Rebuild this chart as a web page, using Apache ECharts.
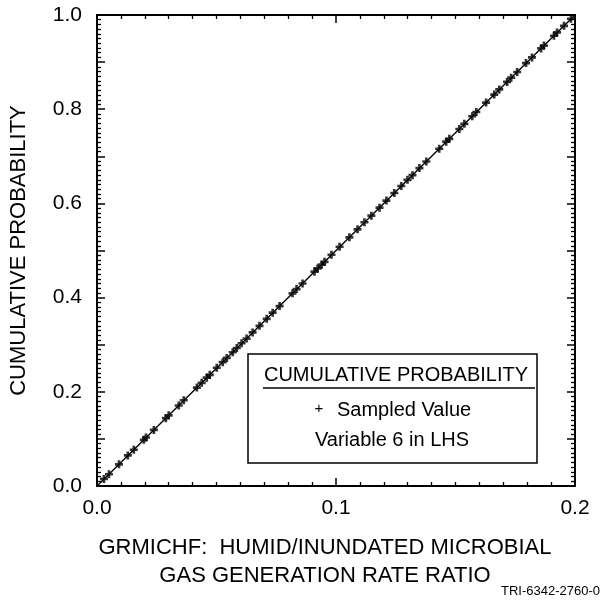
<!DOCTYPE html>
<html>
<head>
<meta charset="utf-8">
<script src="https://cdn.jsdelivr.net/npm/echarts@6/dist/echarts.min.js"></script>
<style>
html,body{margin:0;padding:0;background:#fff;}
#chart{width:612px;height:601px;}
</style>
</head>
<body>
<div id="chart"></div>
<script>
var sampledX = [
  0.0029,0.0050,0.0092,0.0129,0.0154,0.0196,0.0205,0.0238,0.0288,0.0300,0.0342,0.0363,
  0.0418,0.0438,0.0459,0.0472,0.0501,0.0526,0.0543,0.0568,0.0585,0.0605,0.0626,0.0651,
  0.0680,0.0710,0.0735,0.0764,0.0818,0.0835,0.0860,0.0910,0.0923,0.0940,0.0952,0.0981,
  0.1015,0.1056,0.1090,0.1119,0.1148,0.1182,0.1211,0.1244,0.1273,0.1299,0.1320,
  0.1349,0.1378,0.1432,0.1461,0.1474,0.1516,0.1537,0.1570,0.1587,0.1628,0.1662,
  0.1683,0.1716,0.1733,0.1758,0.1795,0.1820,0.1858,0.1870,0.1912,0.1925,0.1954,0.1983
];
var sampledY = [
  0.015,0.025,0.046,0.065,0.077,0.098,0.103,0.119,0.144,0.150,0.171,0.182,
  0.209,0.219,0.230,0.236,0.251,0.263,0.272,0.284,0.293,0.303,0.313,0.326,
  0.340,0.355,0.368,0.382,0.409,0.418,0.430,0.455,0.462,0.470,0.476,0.491,
  0.508,0.528,0.545,0.560,0.574,0.591,0.606,0.622,0.637,0.650,0.660,
  0.675,0.689,0.716,0.731,0.737,0.758,0.769,0.785,0.794,0.814,0.831,
  0.842,0.858,0.867,0.879,0.898,0.910,0.929,0.935,0.956,0.963,0.977,0.992
];
var cdfX = [0, 0.2];
var cdfY = [0, 1.0];
var xTicks = [0, 0.1, 0.2];
var yTicks = [0, 0.2, 0.4, 0.6, 0.8, 1.0];

var pts = sampledX.map(function(x, i){ return [x, sampledY[i]]; });
var cdf = cdfX.map(function(x, i){ return [x, cdfY[i]]; });

var font = 'Liberation Sans, Arial, sans-serif';
var plus = 'path://M-1,-3H1V-1H3V1H1V3H-1V1H-3V-1H-1Z';

function axisBase(){
  return {
    type: 'value',
    axisLine: {show: true, onZero: false, lineStyle: {color: '#000', width: 2}},
    axisTick: {show: true, inside: true, length: 8, lineStyle: {color: '#000', width: 1.5}},
    minorTick: {show: true, splitNumber: 10, length: 4, lineStyle: {color: '#000', width: 1.3}},
    splitLine: {show: false},
    minorSplitLine: {show: false}
  };
}

var chart = echarts.init(document.getElementById('chart'));
var xb = Object.assign(axisBase(), {
  position: 'bottom', min: 0, max: 0.2, interval: 0.1,
  axisLabel: {color: '#000', fontSize: 21, fontFamily: font, margin: 12,
    formatter: function(v){ return xTicks.indexOf(Math.round(v*10)/10) >= 0 ? v.toFixed(1) : ''; }}
});
var xt = Object.assign(axisBase(), {
  position: 'top', min: 0, max: 0.2, interval: 0.1, axisLabel: {show: false}
});
var yl = Object.assign(axisBase(), {
  position: 'left', min: 0, max: 1, interval: 0.1,
  name: 'CUMULATIVE PROBABILITY', nameLocation: 'middle', nameGap: 67,
  nameTextStyle: {color: '#000', fontSize: 22, fontFamily: font},
  axisLabel: {color: '#000', fontSize: 21, fontFamily: font, margin: 15,
    formatter: function(v){
      var r = Math.round(v*10)/10;
      return yTicks.some(function(t){ return Math.abs(t - r) < 1e-6; }) ? r.toFixed(1) : '';
    }}
});
var yr = Object.assign(axisBase(), {
  position: 'right', min: 0, max: 1, interval: 0.1, axisLabel: {show: false}
});

chart.setOption({
  animation: false,
  grid: {left: 96, right: 37, top: 15, bottom: 115},
  xAxis: [xb, xt],
  yAxis: [yl, yr],
  series: [
    {
      type: 'line', data: cdf, symbol: 'none',
      lineStyle: {color: '#000', width: 1.4}, z: 2
    },
    {
      type: 'scatter', data: pts, symbol: plus, symbolSize: 8,
      itemStyle: {color: '#000'}, z: 3
    }
  ],
  graphic: [
    {type: 'rect', shape: {x: 248, y: 354, width: 289, height: 109},
     style: {fill: '#fff', stroke: '#000', lineWidth: 1.5}, z: 10},
    {type: 'text', x: 396, y: 375, z: 11,
     style: {text: 'CUMULATIVE PROBABILITY', fill: '#000', font: '20px ' + font, align: 'center', verticalAlign: 'middle'}},
    {type: 'line', shape: {x1: 263, y1: 388, x2: 535, y2: 388}, z: 11,
     style: {stroke: '#000', lineWidth: 1.5}},
    {type: 'text', x: 319, y: 409, z: 11,
     style: {text: '+', fill: '#000', font: '15px ' + font, align: 'center', verticalAlign: 'middle'}},
    {type: 'text', x: 337, y: 410, z: 11,
     style: {text: 'Sampled Value', fill: '#000', font: '20px ' + font, align: 'left', verticalAlign: 'middle'}},
    {type: 'text', x: 392, y: 440, z: 11,
     style: {text: 'Variable 6 in LHS', fill: '#000', font: '20px ' + font, align: 'center', verticalAlign: 'middle'}},
    {type: 'text', x: 325, y: 548,
     style: {text: 'GRMICHF:  HUMID/INUNDATED MICROBIAL', fill: '#000', font: '22px ' + font, align: 'center', verticalAlign: 'middle'}},
    {type: 'text', x: 325, y: 576,
     style: {text: 'GAS GENERATION RATE RATIO', fill: '#000', font: '22px ' + font, align: 'center', verticalAlign: 'middle'}},
    {type: 'text', x: 600, y: 591,
     style: {text: 'TRI-6342-2760-0', fill: '#000', font: '13px ' + font, align: 'right', verticalAlign: 'middle'}}
  ]
});
</script>
</body>
</html>
